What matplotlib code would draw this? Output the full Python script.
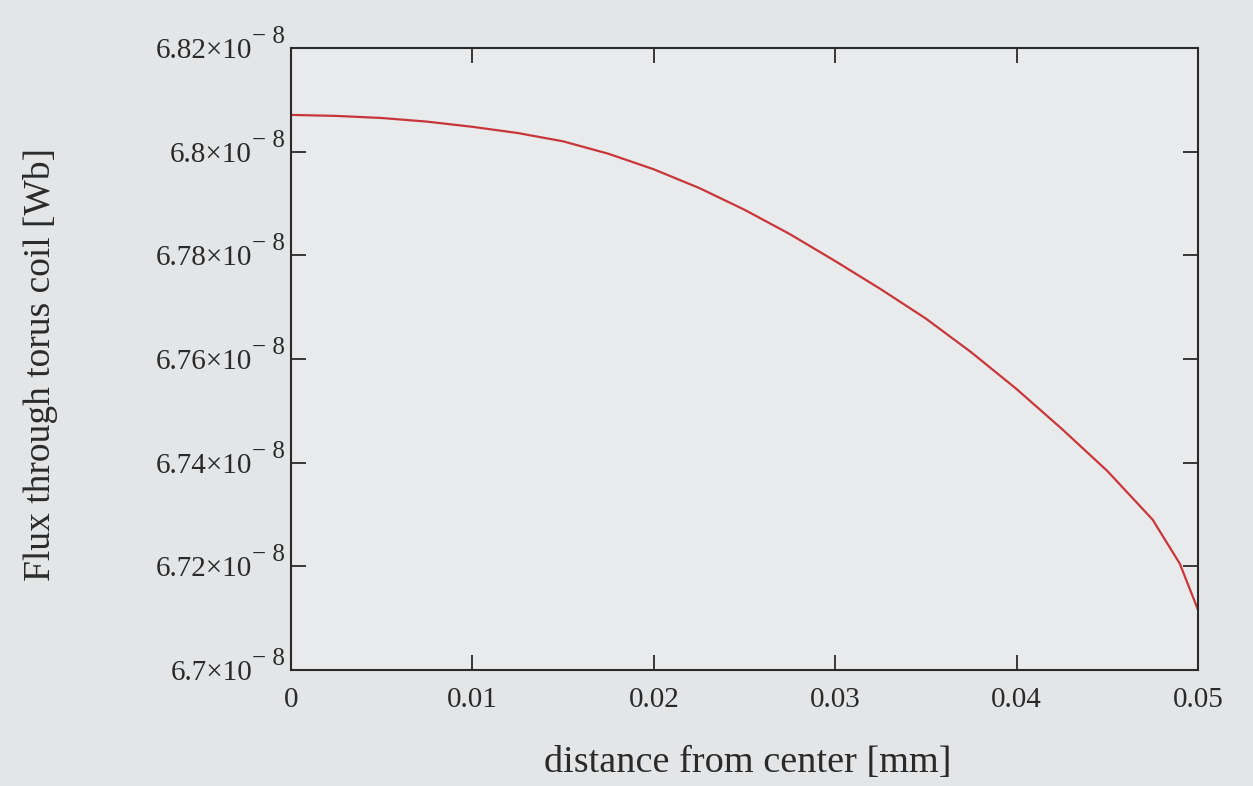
import matplotlib
matplotlib.use("Agg")
import matplotlib.pyplot as plt

# Data (distance in m, flux in 1e-8 Wb)
distance = [0.000, 0.0025, 0.005, 0.0075, 0.010, 0.0125, 0.015, 0.0175, 0.020, 0.0225,
            0.025, 0.0275, 0.030, 0.0325, 0.035, 0.0375, 0.040, 0.0425, 0.045, 0.0475, 0.049, 0.050]
flux_e8 = [6.8071, 6.8069, 6.8065, 6.8058, 6.8048, 6.8036, 6.8020, 6.7996, 6.7966, 6.7930,
           6.7888, 6.7841, 6.7789, 6.7735, 6.7678, 6.7613, 6.7542, 6.7465, 6.7384, 6.7290, 6.7205, 6.7116]

x_ticks = [0, 0.01, 0.02, 0.03, 0.04, 0.05]
x_tick_labels = ["0", "0.01", "0.02", "0.03", "0.04", "0.05"]
y_ticks_e8 = [6.70, 6.72, 6.74, 6.76, 6.78, 6.80, 6.82]
y_tick_labels = ["6.7", "6.72", "6.74", "6.76", "6.78", "6.8", "6.82"]
y_exponent = "\u2212 8"

x_label = "distance from center [mm]"
y_label = "Flux through torus coil [Wb]"

plt.rcParams["font.family"] = ["Liberation Serif", "DejaVu Serif"]

ink = "#2a2a2a"
fig = plt.figure(figsize=(12.53, 7.86), dpi=100, facecolor="#e3e5e7")
ax = fig.add_axes([0.2322, 0.1476, 0.9561 - 0.2322, 0.9389 - 0.1476])
ax.set_facecolor("#e8eaec")

flux = [v * 1e-8 for v in flux_e8]
ax.plot(distance, flux, color="#c9363a", lw=1.6)

ax.set_xlim(0, 0.05)
ax.set_ylim(6.70e-8, 6.82e-8)

ax.set_xticks(x_ticks)
ax.set_xticklabels(x_tick_labels)
y_tick_vals = [v * 1e-8 for v in y_ticks_e8]
ax.set_yticks(y_tick_vals)
ax.set_yticklabels([lab + "\u00d710" for lab in y_tick_labels])

ax.tick_params(direction="in", length=11, width=1.3, top=True, right=True,
               labelsize=21, colors=ink)
ax.tick_params(axis="x", pad=12)
ax.tick_params(axis="y", pad=28)
for sp in ax.spines.values():
    sp.set_linewidth(1.5)
    sp.set_color(ink)

# exponents of the y tick labels, raised like in the original
for yv in y_tick_vals:
    ax.annotate(y_exponent, xy=(0, yv), xycoords=("axes fraction", "data"),
                xytext=(-6, 11), textcoords="offset pixels",
                ha="right", va="center", fontsize=18, color=ink, annotation_clip=False)

fig.text(0.597, 0.030, x_label, ha="center", va="center", fontsize=27.5, color=ink)
fig.text(0.032, 0.536, y_label, ha="center", va="center", rotation=90, fontsize=27, color=ink)

fig.savefig("out.png", dpi=100, facecolor=fig.get_facecolor())
